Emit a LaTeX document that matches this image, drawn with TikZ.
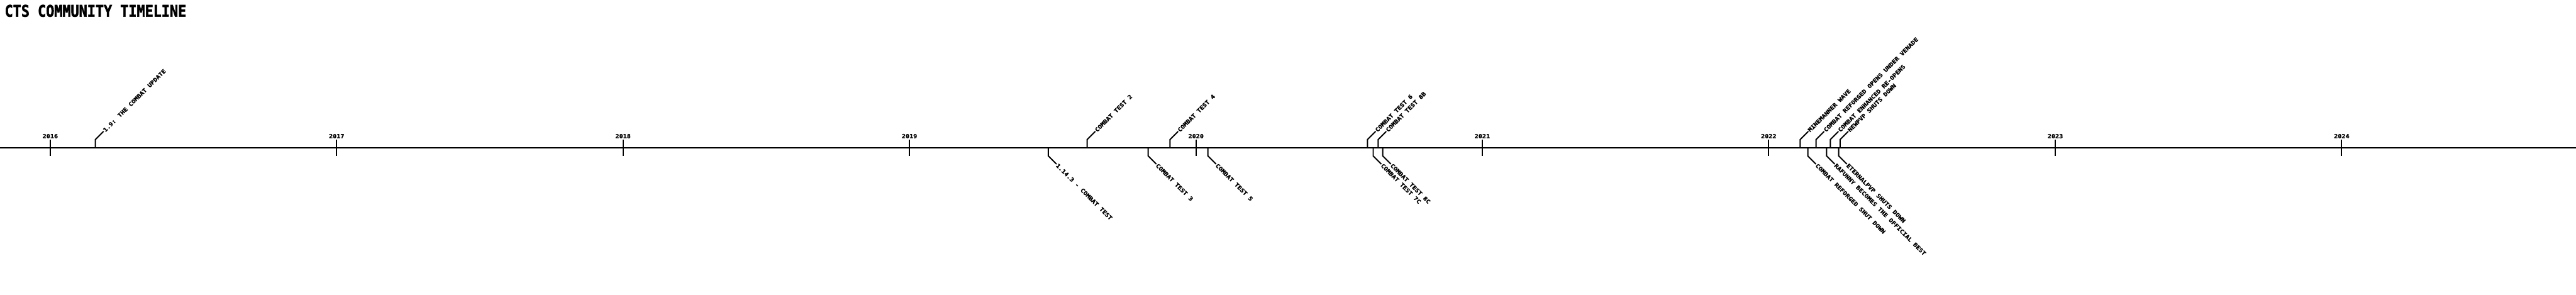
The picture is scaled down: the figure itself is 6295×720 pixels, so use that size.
\documentclass[tikz,border=0pt]{standalone}
\usepackage{fontspec}
\newfontfamily\pxfont{DejaVu Sans Mono Bold}[FakeStretch=1.14,FakeBold=1.5]
\newfontfamily\pxtitle{DejaVu Sans Mono Bold}[FakeStretch=0.85,FakeBold=2]
\begin{document}
\begin{tikzpicture}[x=1pt,y=-1pt,
  axisline/.style={line width=4pt},
  tickline/.style={line width=3pt},
  stemline/.style={line width=3pt},
  yearlbl/.style={font=\pxfont\fontsize{13.7}{14}\selectfont, anchor=south, inner sep=0pt},
  uplbl/.style={font=\pxfont\fontsize{13.7}{14}\selectfont, anchor=west, rotate=45, inner sep=1.5pt},
  downlbl/.style={font=\pxfont\fontsize{13.7}{14}\selectfont, anchor=west, rotate=-45, inner sep=1.5pt},
  titlelbl/.style={font=\pxtitle\fontsize{39.4}{40}\selectfont, anchor=north west, inner sep=0pt}]
\useasboundingbox[fill=white] (0,0) rectangle (6295,720);
\node[titlelbl] (title) at (11.5,11.5) {CTS COMMUNITY TIMELINE};
\coordinate (axL) at (0,361);
\coordinate (axR) at (6295,361);
\draw[axisline] (axL) -- (axR);
% year ticks
\foreach \yr/\x in {2016/122.7,2017/822.6,2018/1522.5,2019/2222.4,2020/2922.7,2021/3622.2,2022/4322.1,2023/5022.5,2024/5722.3}{
  \coordinate (t\yr top) at (\x,341);
  \coordinate (t\yr bot) at (\x,381);
  \draw[tickline] (t\yr top) -- (t\yr bot);
  \node[yearlbl] (y\yr) at (\x,338) {\yr};
}
% events above the line
\foreach \n/\x/\t in {
  a1/233/{1.9: THE COMBAT UPDATE},
  a2/2656.7/{COMBAT TEST 2},
  a3/2859/{COMBAT TEST 4},
  a4/3341.7/{COMBAT TEST 6},
  a5/3367.7/{COMBAT TEST 8B},
  a6/4399/{MINEMANNER WAVE},
  a7/4437.7/{COMBAT REFORGED OPENS UNDER VENADE},
  a8/4472.7/{COMBAT ENHANCED RE-OPENS},
  a9/4496.7/{NEWPVP SHUTS DOWN}}{
  \coordinate (\n0) at (\x,361);
  \coordinate (\n1) at (\x,341);
  \coordinate (\n2) at (\x+20,321);
  \draw[stemline] (\n0) -- (\n1) -- (\n2);
  \node[uplbl] (\n) at (\n2) {\t};
}
% events below the line
\foreach \n/\x/\t in {
  b1/2561.7/{1.14.3 - COMBAT TEST},
  b2/2805.7/{COMBAT TEST 3},
  b3/2951.7/{COMBAT TEST 5},
  b4/3355.7/{COMBAT TEST 7C},
  b5/3379/{COMBAT TEST 8C},
  b6/4417.7/{COMBAT REFORGED SHUT DOWN},
  b7/4463.7/{RAFUNNY BECOMES THE OFFICIAL BEST},
  b8/4493.3/{ETERNALPVP SHUTS DOWN}}{
  \coordinate (\n0) at (\x,361);
  \coordinate (\n1) at (\x,381);
  \coordinate (\n2) at (\x+20,401);
  \draw[stemline] (\n0) -- (\n1) -- (\n2);
  \node[downlbl] (\n) at (\n2) {\t};
}
\end{tikzpicture}
\end{document}
